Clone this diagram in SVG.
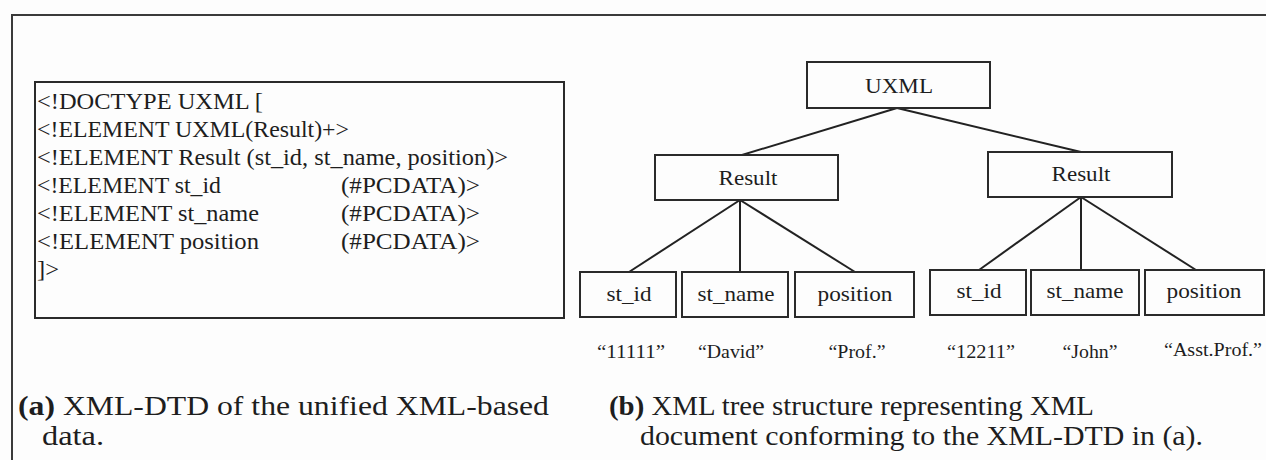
<svg xmlns="http://www.w3.org/2000/svg" width="1266" height="460" viewBox="0 0 1266 460">
  <style>
    .frame { fill: none; stroke: #3a3a3a; stroke-width: 2; }
    .box { fill: none; stroke: #2a2a2a; stroke-width: 2; }
    .serif { font-family: "Liberation Serif", "Times New Roman", Times, serif; fill: #1e1e1e; white-space: pre; }
    .dtd { font-size: 23px; }
    .lbl { font-size: 22px; text-anchor: middle; }
    .val { font-size: 18px; text-anchor: middle; }
    .cap { font-size: 28px; }
    .edge { stroke: #222; stroke-width: 2; fill: none; }
  </style>
  <rect width="1266" height="460" fill="#fdfdfd"/>

  <!-- outer frame, continues past the right and bottom edges -->
  <path class="frame" d="M12,470 L12,15 L1280,15"/>

  <!-- (a) DTD listing -->
  <g id="dtd" class="serif dtd">
    <rect class="box" x="35" y="82" width="529" height="236"/>
    <text x="37" y="109" textLength="226" lengthAdjust="spacingAndGlyphs">&lt;!DOCTYPE  UXML [</text>
    <text x="37" y="137" textLength="312" lengthAdjust="spacingAndGlyphs">&lt;!ELEMENT UXML(Result)+&gt;</text>
    <text x="37" y="165" textLength="471" lengthAdjust="spacingAndGlyphs">&lt;!ELEMENT Result (st_id, st_name, position)&gt;</text>
    <text x="37" y="193" textLength="184" lengthAdjust="spacingAndGlyphs">&lt;!ELEMENT st_id</text>
    <text x="341" y="193" textLength="139" lengthAdjust="spacingAndGlyphs">(#PCDATA)&gt;</text>
    <text x="37" y="221" textLength="222" lengthAdjust="spacingAndGlyphs">&lt;!ELEMENT  st_name</text>
    <text x="341" y="221" textLength="139" lengthAdjust="spacingAndGlyphs">(#PCDATA)&gt;</text>
    <text x="37" y="249" textLength="222" lengthAdjust="spacingAndGlyphs">&lt;!ELEMENT  position</text>
    <text x="341" y="249" textLength="139" lengthAdjust="spacingAndGlyphs">(#PCDATA)&gt;</text>
    <text x="37" y="277" textLength="22" lengthAdjust="spacingAndGlyphs">]&gt;</text>
  </g>

  <!-- (b) tree connectors -->
  <g id="connectors">
    <line class="edge" x1="897" y1="108" x2="742" y2="155"/>
    <line class="edge" x1="897" y1="108" x2="1081" y2="152"/>
    <line class="edge" x1="740" y1="200" x2="629" y2="272"/>
    <line class="edge" x1="740" y1="200" x2="740" y2="272"/>
    <line class="edge" x1="740" y1="200" x2="855" y2="272"/>
    <line class="edge" x1="1081" y1="197" x2="979" y2="270"/>
    <line class="edge" x1="1081" y1="197" x2="1081" y2="270"/>
    <line class="edge" x1="1081" y1="197" x2="1196" y2="270"/>
  </g>

  <g id="uxml" class="serif lbl">
    <rect class="box" x="807" y="62" width="183" height="46"/>
    <text x="899" y="93" textLength="68" lengthAdjust="spacingAndGlyphs">UXML</text>
  </g>
  <g id="result1" class="serif lbl">
    <rect class="box" x="655" y="155" width="183" height="45"/>
    <text x="748" y="185" textLength="59" lengthAdjust="spacingAndGlyphs">Result</text>
  </g>
  <g id="result2" class="serif lbl">
    <rect class="box" x="988" y="152" width="184" height="45"/>
    <text x="1081" y="181" textLength="59" lengthAdjust="spacingAndGlyphs">Result</text>
  </g>

  <g id="st_id1" class="serif lbl">
    <rect class="box" x="580" y="272" width="96" height="45"/>
    <text x="629" y="301" textLength="45" lengthAdjust="spacingAndGlyphs">st_id</text>
  </g>
  <g id="st_name1" class="serif lbl">
    <rect class="box" x="682" y="272" width="106" height="45"/>
    <text x="736" y="301" textLength="77" lengthAdjust="spacingAndGlyphs">st_name</text>
  </g>
  <g id="position1" class="serif lbl">
    <rect class="box" x="795" y="272" width="119" height="45"/>
    <text x="855" y="301" textLength="75" lengthAdjust="spacingAndGlyphs">position</text>
  </g>
  <g id="st_id2" class="serif lbl">
    <rect class="box" x="930" y="270" width="96" height="45"/>
    <text x="979" y="298" textLength="45" lengthAdjust="spacingAndGlyphs">st_id</text>
  </g>
  <g id="st_name2" class="serif lbl">
    <rect class="box" x="1031" y="270" width="108" height="45"/>
    <text x="1085" y="298" textLength="77" lengthAdjust="spacingAndGlyphs">st_name</text>
  </g>
  <g id="position2" class="serif lbl">
    <rect class="box" x="1145" y="270" width="119" height="45"/>
    <text x="1204" y="298" textLength="75" lengthAdjust="spacingAndGlyphs">position</text>
  </g>

  <!-- leaf values -->
  <g id="values" class="serif val">
    <text x="631" y="358" textLength="68" lengthAdjust="spacingAndGlyphs">“11111”</text>
    <text x="731" y="358" textLength="66" lengthAdjust="spacingAndGlyphs">“David”</text>
    <text x="857" y="358" textLength="57" lengthAdjust="spacingAndGlyphs">“Prof.”</text>
    <text x="981" y="358" textLength="68" lengthAdjust="spacingAndGlyphs">“12211”</text>
    <text x="1090" y="358" textLength="55" lengthAdjust="spacingAndGlyphs">“John”</text>
    <text x="1213" y="356" textLength="98" lengthAdjust="spacingAndGlyphs">“Asst.Prof.”</text>
  </g>

  <!-- captions -->
  <g id="caption-a" class="serif cap">
    <text x="18" y="415" textLength="531" lengthAdjust="spacingAndGlyphs"><tspan font-weight="bold">(a)</tspan> XML-DTD of the unified XML-based</text>
    <text x="42" y="445" textLength="62" lengthAdjust="spacingAndGlyphs">data.</text>
  </g>
  <g id="caption-b" class="serif cap">
    <text x="609" y="415" textLength="485" lengthAdjust="spacingAndGlyphs"><tspan font-weight="bold">(b)</tspan> XML tree structure representing XML</text>
    <text x="640" y="445" textLength="563" lengthAdjust="spacingAndGlyphs">document conforming to the XML-DTD in (a).</text>
  </g>
</svg>
